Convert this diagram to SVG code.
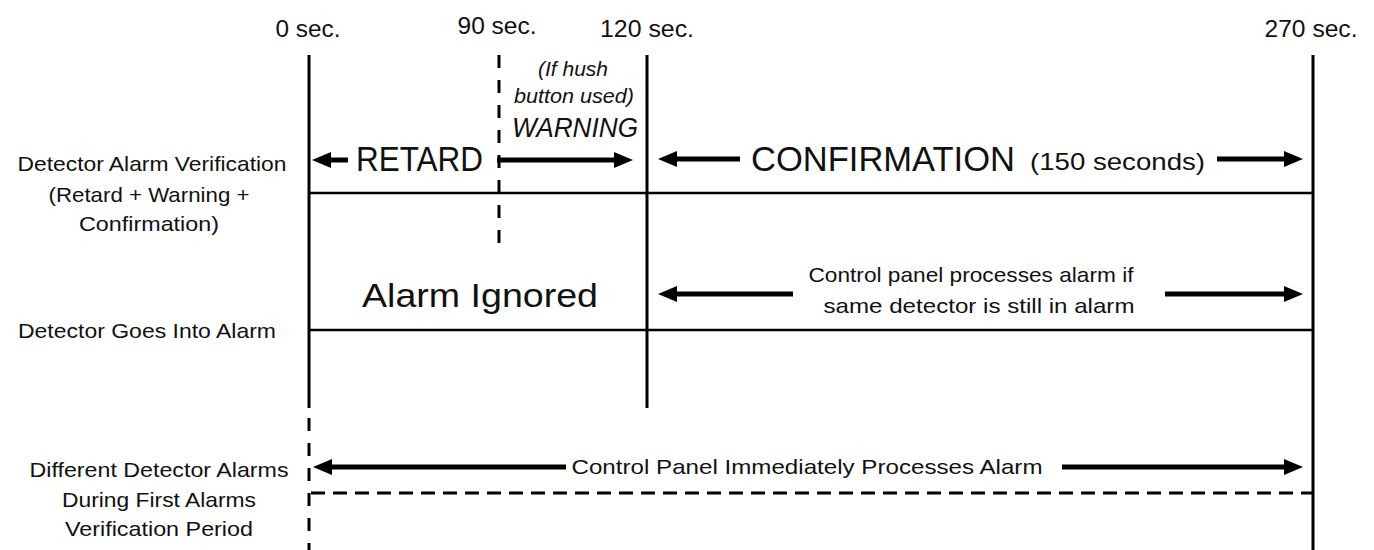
<svg xmlns="http://www.w3.org/2000/svg" width="1374" height="550" viewBox="0 0 1374 550">
<style>
text{font-family:"Liberation Sans",Arial,sans-serif;fill:#111;}
.lbl{font-size:21px;text-anchor:middle;}
.tick{font-size:24px;text-anchor:middle;}
.big{font-size:35px;}
.it{font-style:italic;text-anchor:middle;}
.v{stroke:#000;stroke-width:3;fill:none;}
.h{stroke:#000;stroke-width:2.5;fill:none;}
.dash{stroke:#000;stroke-width:3;stroke-dasharray:13 12;fill:none;}
.hdash{stroke:#000;stroke-width:3;stroke-dasharray:14 8;fill:none;}
.arr{stroke:#000;stroke-width:5;fill:none;marker-start:url(#ah);}
.arrR{stroke:#000;stroke-width:5;fill:none;marker-end:url(#ah);}
</style>
<defs>
<marker id="ah" markerUnits="userSpaceOnUse" markerWidth="19" markerHeight="16" refX="0" refY="8" orient="auto-start-reverse" viewBox="0 0 19 16">
<path d="M0,0 L19,8 L0,16 z" fill="#000"/>
</marker>
</defs>
<rect width="1374" height="550" fill="#fff"/>

<g id="time-labels">
<text class="tick" x="308" y="37" textLength="65" lengthAdjust="spacingAndGlyphs">0 sec.</text>
<text class="tick" x="497" y="34" textLength="79" lengthAdjust="spacingAndGlyphs">90 sec.</text>
<text class="tick" x="647" y="37" textLength="94" lengthAdjust="spacingAndGlyphs">120 sec.</text>
<text class="tick" x="1311" y="37" textLength="93" lengthAdjust="spacingAndGlyphs">270 sec.</text>
</g>

<g id="row-labels">
<text class="lbl" x="152" y="171" textLength="269" lengthAdjust="spacingAndGlyphs">Detector Alarm Verification</text>
<text class="lbl" x="149" y="202" textLength="201" lengthAdjust="spacingAndGlyphs">(Retard + Warning +</text>
<text class="lbl" x="149" y="231" textLength="140" lengthAdjust="spacingAndGlyphs">Confirmation)</text>
<text class="lbl" x="147" y="338" textLength="258" lengthAdjust="spacingAndGlyphs">Detector Goes Into Alarm</text>
<text class="lbl" x="159" y="477" textLength="259" lengthAdjust="spacingAndGlyphs">Different Detector Alarms</text>
<text class="lbl" x="159" y="507" textLength="194" lengthAdjust="spacingAndGlyphs">During First Alarms</text>
<text class="lbl" x="159" y="536" textLength="188" lengthAdjust="spacingAndGlyphs">Verification Period</text>
</g>

<g id="grid">
<line class="v" x1="309" y1="55" x2="309" y2="408"/>
<line class="dash" x1="309" y1="418" x2="309" y2="550"/>
<line class="dash" x1="499" y1="55" x2="499" y2="246"/>
<line class="v" x1="647" y1="55" x2="647" y2="408"/>
<line class="v" x1="1313" y1="55" x2="1313" y2="550"/>
<line class="h" x1="309" y1="193" x2="1313" y2="193"/>
<line class="h" x1="309" y1="330" x2="1313" y2="330"/>
<line class="hdash" x1="311" y1="493" x2="1313" y2="493"/>
</g>

<g id="verification-row">
<text class="big" x="356" y="171" textLength="127" lengthAdjust="spacingAndGlyphs">RETARD</text>
<text class="it" x="573" y="76" font-size="20" textLength="70" lengthAdjust="spacingAndGlyphs">(If hush</text>
<text class="it" x="574" y="103" font-size="20" textLength="120" lengthAdjust="spacingAndGlyphs">button used)</text>
<text class="it" x="575" y="137" font-size="27" textLength="126" lengthAdjust="spacingAndGlyphs">WARNING</text>
<text class="big" x="751" y="171" textLength="264" lengthAdjust="spacingAndGlyphs">CONFIRMATION</text>
<text x="1030" y="170" font-size="24" textLength="175" lengthAdjust="spacingAndGlyphs">(150 seconds)</text>
</g>

<g id="alarm-row">
<text x="362" y="307" font-size="34" textLength="236" lengthAdjust="spacingAndGlyphs">Alarm Ignored</text>
<text class="lbl" x="971" y="282" font-size="22" textLength="325" lengthAdjust="spacingAndGlyphs">Control panel processes alarm if</text>
<text class="lbl" x="979" y="313" font-size="22" textLength="311" lengthAdjust="spacingAndGlyphs">same detector is still in alarm</text>
</g>

<g id="different-row">
<text class="lbl" x="807" y="474" font-size="22" textLength="471" lengthAdjust="spacingAndGlyphs">Control Panel Immediately Processes Alarm</text>
</g>

<g id="connectors">
<line class="arr" x1="331" y1="160" x2="348" y2="160"/>
<line class="arrR" x1="497" y1="160" x2="614" y2="160"/>
<line class="arr" x1="677" y1="159" x2="740" y2="159"/>
<line class="arrR" x1="1217" y1="159" x2="1284" y2="159"/>
<line class="arr" x1="677" y1="294" x2="793" y2="294"/>
<line class="arrR" x1="1165" y1="294" x2="1284" y2="294"/>
<line class="arr" x1="332" y1="467" x2="566" y2="467"/>
<line class="arrR" x1="1062" y1="467" x2="1284" y2="467"/>
</g>
</svg>
